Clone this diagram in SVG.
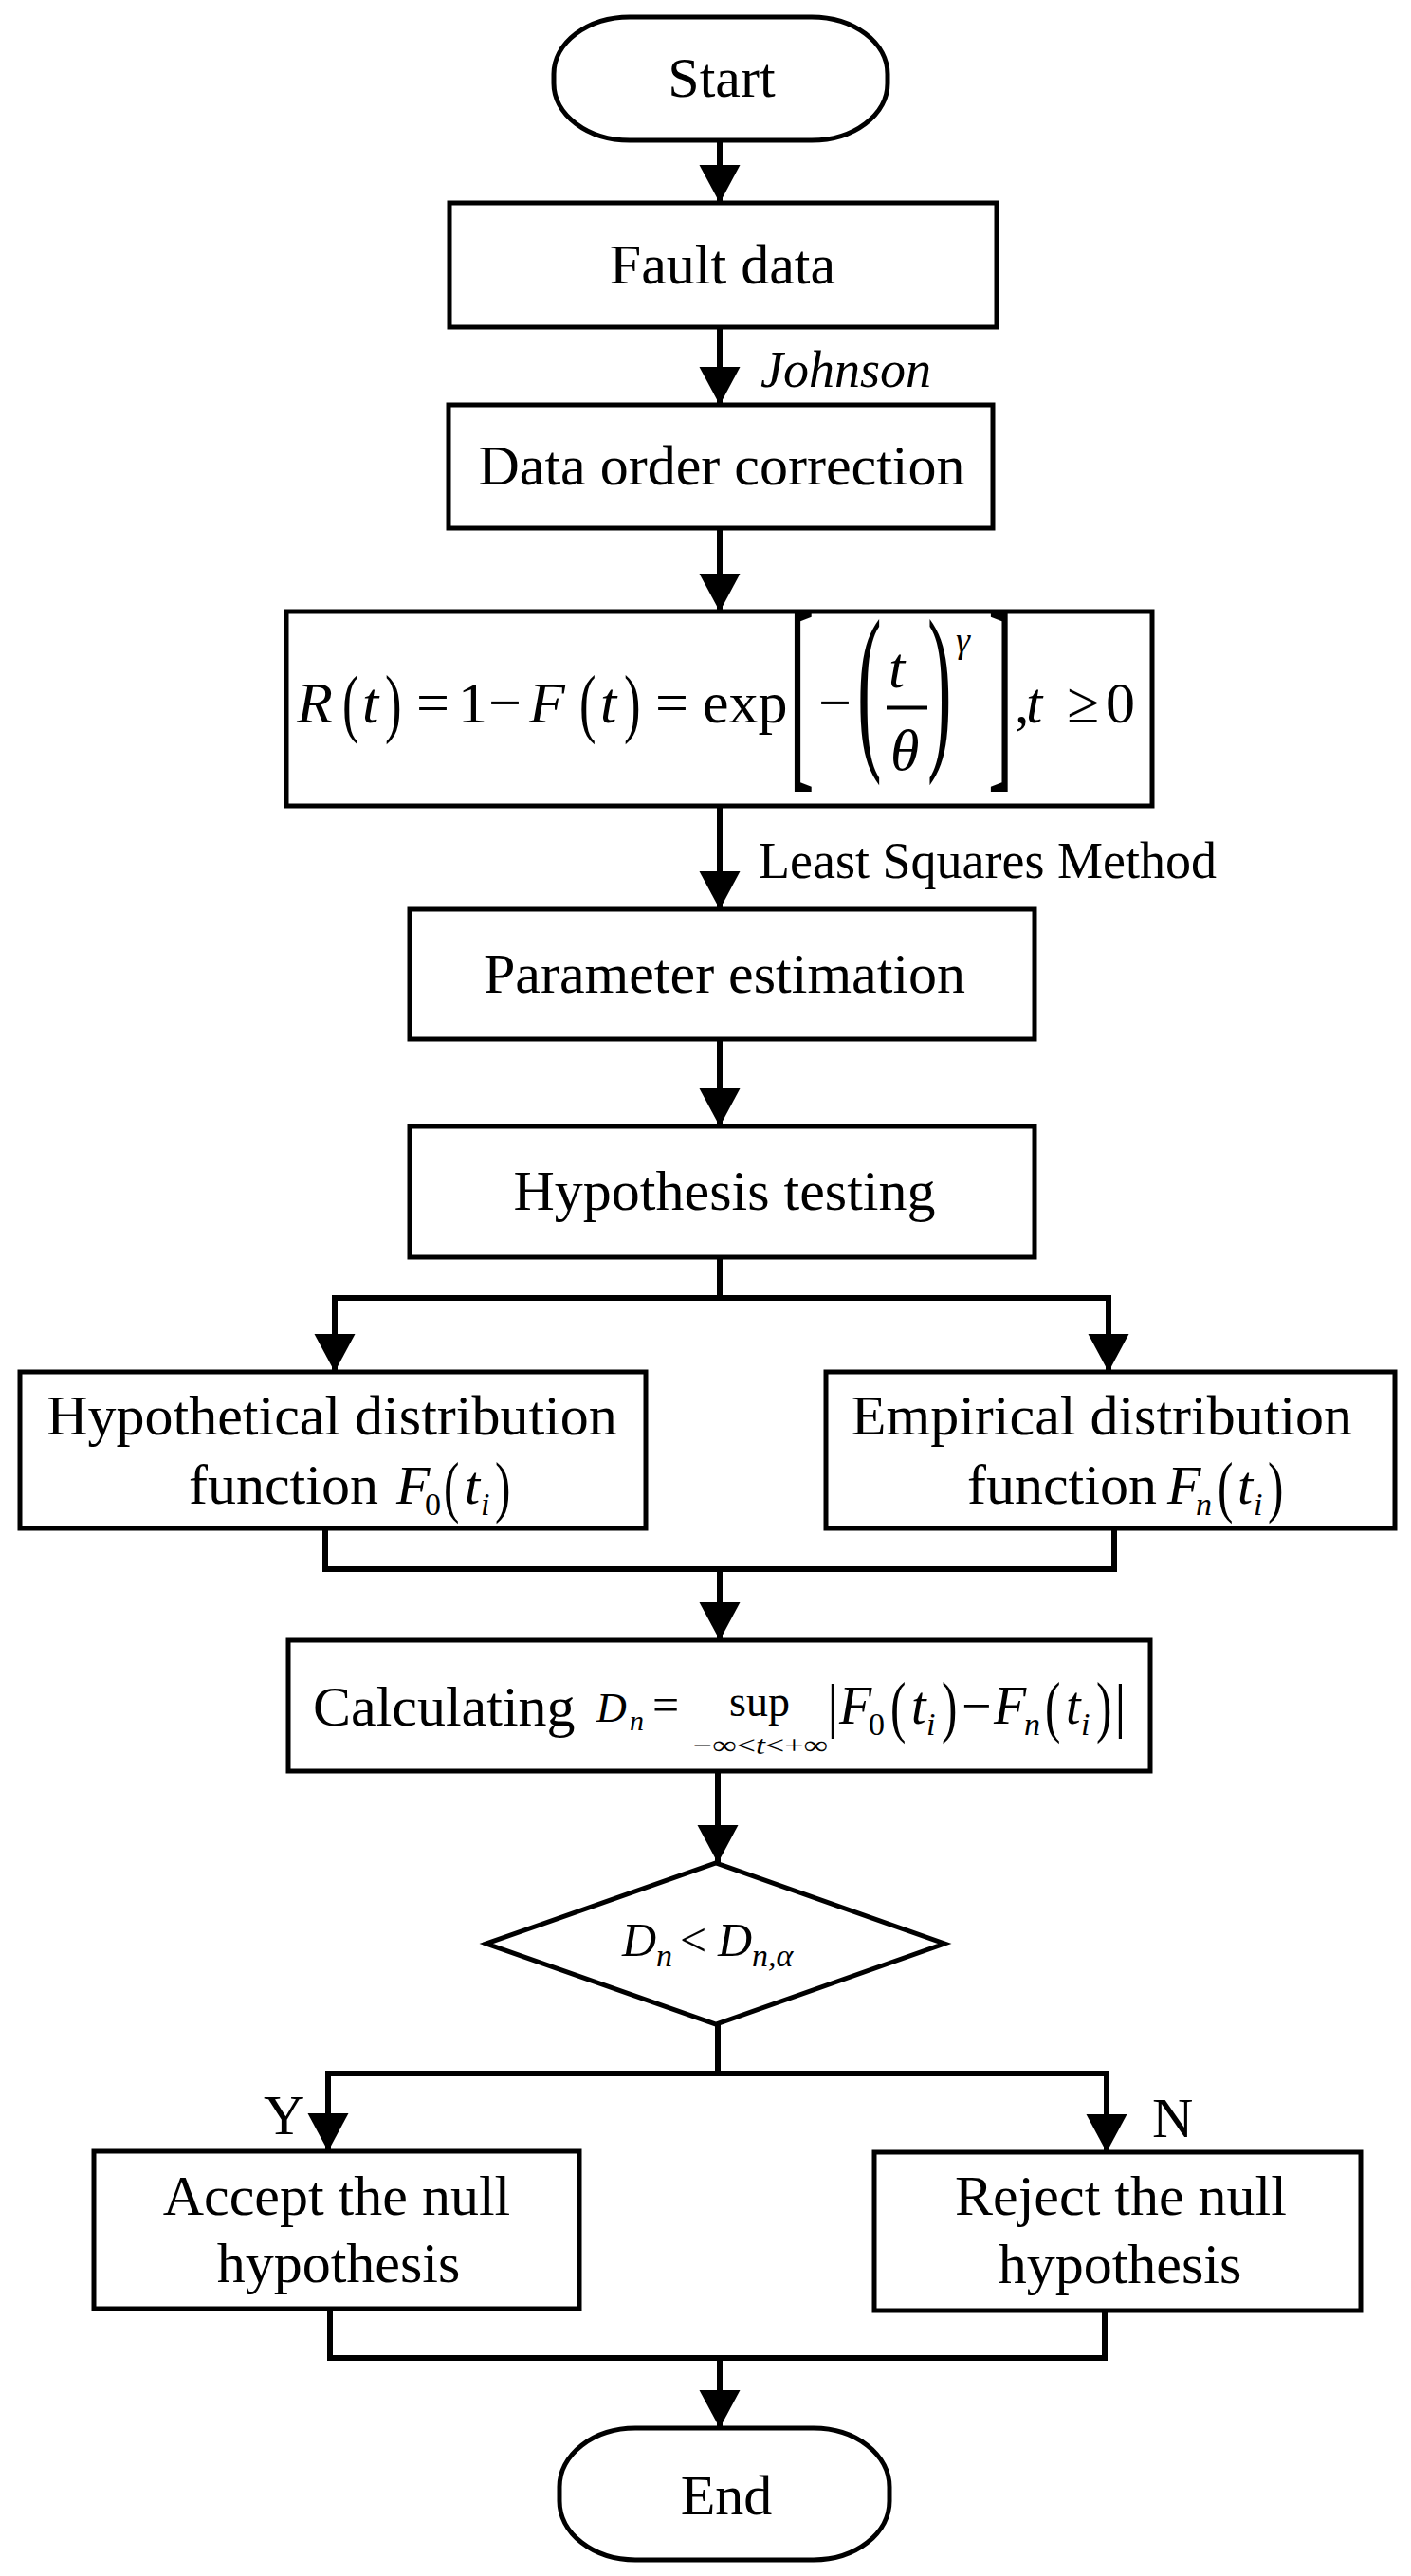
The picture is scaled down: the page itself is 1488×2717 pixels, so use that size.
<svg xmlns="http://www.w3.org/2000/svg" width="1488" height="2717" viewBox="0 0 1488 2717" font-size="60">
<defs>
<style>
.t{font-family:"Liberation Serif","Times New Roman",serif;fill:#000}
.c{text-anchor:middle}
.i{font-style:italic}
.box{fill:#fff;stroke:#000;stroke-width:5}
.term{fill:#fff;stroke:#000;stroke-width:5}
.ln{fill:none;stroke:#000;stroke-width:6}
</style>
<marker id="ah" markerUnits="userSpaceOnUse" markerWidth="42" markerHeight="44" refX="40" refY="0" orient="auto" overflow="visible">
<path d="M0,-21.5 L40,0 L0,21.5 Z" fill="#000"/>
</marker>
</defs>
<rect width="1488" height="2717" fill="#fff"/>

<g id="connectors">
<line class="ln" x1="759" y1="148" x2="759" y2="214" marker-end="url(#ah)"/>
<line class="ln" x1="759" y1="344" x2="759" y2="427" marker-end="url(#ah)"/>
<line class="ln" x1="759" y1="557" x2="759" y2="645" marker-end="url(#ah)"/>
<line class="ln" x1="759" y1="850" x2="759" y2="959" marker-end="url(#ah)"/>
<line class="ln" x1="759" y1="1096" x2="759" y2="1188" marker-end="url(#ah)"/>
<polyline class="ln" points="759,1326 759,1369"/>
<polyline class="ln" points="353,1369 1169,1369"/>
<line class="ln" x1="353" y1="1366" x2="353" y2="1447" marker-end="url(#ah)"/>
<line class="ln" x1="1169" y1="1366" x2="1169" y2="1447" marker-end="url(#ah)"/>
<polyline class="ln" points="343,1612 343,1655 1175,1655 1175,1612"/>
<line class="ln" x1="759" y1="1655" x2="759" y2="1730" marker-end="url(#ah)"/>
<line class="ln" x1="757" y1="1868" x2="757" y2="1965" marker-end="url(#ah)"/>
<polyline class="ln" points="757,2135 757,2187"/>
<polyline class="ln" points="346,2187 1167,2187"/>
<line class="ln" x1="346" y1="2184" x2="346" y2="2269" marker-end="url(#ah)"/>
<line class="ln" x1="1167" y1="2184" x2="1167" y2="2270" marker-end="url(#ah)"/>
<polyline class="ln" points="348,2435 348,2487 1165,2487 1165,2437"/>
<line class="ln" x1="759" y1="2487" x2="759" y2="2561" marker-end="url(#ah)"/>
<text class="t i" x="802" y="408" font-size="54">Johnson</text>
<text class="t" x="800" y="926" font-size="54">Least Squares Method</text>
<text class="t" x="278" y="2251">Y</text>
<text class="t" x="1215" y="2254">N</text>
</g>

<g id="start">
<rect class="term" x="584" y="18" width="352" height="130" rx="80" ry="60"/>
<text class="t c" x="761" y="102">Start</text>
</g>

<g id="fault-data">
<rect class="box" x="474" y="214" width="577" height="131"/>
<text class="t c" x="762" y="299">Fault data</text>
</g>

<g id="data-order">
<rect class="box" x="473" y="427" width="574" height="130"/>
<text class="t c" x="761" y="511">Data order correction</text>
</g>

<g id="reliability-formula">
<rect class="box" x="302" y="645" width="913" height="205"/>
<text class="t i" x="313" y="762" font-size="62">R</text>
<text class="t" transform="translate(361,768) scale(0.85,1.31)" font-size="62">(</text>
<text class="t i" x="382" y="762" font-size="62">t</text>
<text class="t" transform="translate(406,768) scale(0.85,1.31)" font-size="62">)</text>
<text class="t" x="439" y="762" font-size="62">=</text>
<text class="t" x="483" y="762" font-size="62">1</text>
<text class="t" x="515" y="762" font-size="62">−</text>
<text class="t i" x="558" y="762" font-size="62">F</text>
<text class="t" transform="translate(611,768) scale(0.85,1.31)" font-size="62">(</text>
<text class="t i" x="633" y="762" font-size="62">t</text>
<text class="t" transform="translate(658,768) scale(0.85,1.31)" font-size="62">)</text>
<text class="t" x="691" y="762" font-size="62">=</text>
<text class="t" x="741" y="762" font-size="62">exp</text>
<text class="t" transform="translate(832,804) scale(1.0,2.87)" font-size="80">[</text>
<text class="t" x="863" y="762" font-size="62">−</text>
<text class="t" transform="translate(904,787) scale(1.1,2.77)" font-size="70">(</text>
<text class="t i" x="937" y="725" font-size="62">t</text>
<line x1="935" y1="746.5" x2="978" y2="746.5" stroke="#000" stroke-width="4"/>
<text class="t i" x="939" y="812" font-size="62">θ</text>
<text class="t" transform="translate(978,787) scale(1.1,2.77)" font-size="70">)</text>
<text class="t i" x="1008" y="688" font-size="38">γ</text>
<text class="t" transform="translate(1042,804) scale(1.0,2.87)" font-size="80">]</text>
<text class="t" x="1070" y="762" font-size="62">,</text>
<text class="t i" x="1082" y="762" font-size="62">t</text>
<text class="t" x="1125" y="762" font-size="62">≥</text>
<text class="t" x="1166" y="762" font-size="62">0</text>
</g>

<g id="parameter-estimation">
<rect class="box" x="432" y="959" width="659" height="137"/>
<text class="t c" x="764" y="1047">Parameter estimation</text>
</g>

<g id="hypothesis-testing">
<rect class="box" x="432" y="1188" width="659" height="138"/>
<text class="t c" x="764" y="1276">Hypothesis testing</text>
</g>

<g id="hypothetical-distribution">
<rect class="box" x="21" y="1447" width="660" height="165"/>
<text class="t c" x="350" y="1513">Hypothetical distribution</text>
<text class="t" x="199" y="1586">function</text>
<text class="t i" x="418" y="1586" font-size="58">F</text>
<text class="t" x="448" y="1598" font-size="34">0</text>
<text class="t" transform="translate(468,1592) scale(0.85,1.25)" font-size="58">(</text>
<text class="t i" x="490" y="1586" font-size="58">t</text>
<text class="t i" x="507" y="1598" font-size="34">i</text>
<text class="t" transform="translate(522,1592) scale(0.85,1.25)" font-size="58">)</text>
</g>

<g id="empirical-distribution">
<rect class="box" x="871" y="1447" width="600" height="165"/>
<text class="t c" x="1162" y="1513">Empirical distribution</text>
<text class="t" x="1020" y="1586">function</text>
<text class="t i" x="1231" y="1586" font-size="58">F</text>
<text class="t i" x="1261" y="1598" font-size="34">n</text>
<text class="t" transform="translate(1284,1592) scale(0.85,1.25)" font-size="58">(</text>
<text class="t i" x="1305" y="1586" font-size="58">t</text>
<text class="t i" x="1322" y="1598" font-size="34">i</text>
<text class="t" transform="translate(1337,1592) scale(0.85,1.25)" font-size="58">)</text>
</g>

<g id="calculating">
<rect class="box" x="304" y="1730" width="909" height="138"/>
<text class="t" x="330" y="1820">Calculating</text>
<text class="t i" x="629" y="1816" font-size="44">D</text>
<text class="t i" x="664" y="1825" font-size="30">n</text>
<text class="t" x="688" y="1815" font-size="50">=</text>
<text class="t" x="769" y="1810" font-size="46">sup</text>
<text class="t" x="731" y="1850" font-size="28" textLength="142" lengthAdjust="spacingAndGlyphs">−∞&lt;<tspan class="i">t</tspan>&lt;+∞</text>
<text class="t" x="872" y="1820" font-size="64">|</text>
<text class="t i" x="885" y="1818" font-size="56">F</text>
<text class="t" x="916" y="1830" font-size="34">0</text>
<text class="t" transform="translate(939,1824) scale(0.85,1.25)" font-size="58">(</text>
<text class="t i" x="961" y="1818" font-size="56">t</text>
<text class="t i" x="977" y="1830" font-size="34">i</text>
<text class="t" transform="translate(993,1824) scale(0.85,1.25)" font-size="58">)</text>
<text class="t" x="1014" y="1818" font-size="56">−</text>
<text class="t i" x="1048" y="1818" font-size="56">F</text>
<text class="t i" x="1080" y="1830" font-size="34">n</text>
<text class="t" transform="translate(1102,1824) scale(0.85,1.25)" font-size="58">(</text>
<text class="t i" x="1124" y="1818" font-size="56">t</text>
<text class="t i" x="1140" y="1830" font-size="34">i</text>
<text class="t" transform="translate(1156,1824) scale(0.85,1.25)" font-size="58">)</text>
<text class="t" x="1175" y="1820" font-size="64">|</text>
</g>

<g id="decision">
<polygon class="box" points="755,1965 996,2050 755,2135 513,2050"/>
<text class="t i" x="656" y="2063" font-size="50">D</text>
<text class="t i" x="692" y="2074" font-size="34">n</text>
<text class="t" x="717" y="2063" font-size="50">&lt;</text>
<text class="t i" x="757" y="2063" font-size="50">D</text>
<text class="t i" x="793" y="2074" font-size="34">n,α</text>
</g>

<g id="accept">
<rect class="box" x="99" y="2269" width="512" height="166"/>
<text class="t c" x="355" y="2336">Accept the null</text>
<text class="t c" x="357" y="2407">hypothesis</text>
</g>

<g id="reject">
<rect class="box" x="922" y="2270" width="513" height="167"/>
<text class="t c" x="1182" y="2336">Reject the null</text>
<text class="t c" x="1181" y="2408">hypothesis</text>
</g>

<g id="end">
<rect class="term" x="590" y="2561" width="348" height="139" rx="80" ry="62"/>
<text class="t c" x="766" y="2652">End</text>
</g>
</svg>
